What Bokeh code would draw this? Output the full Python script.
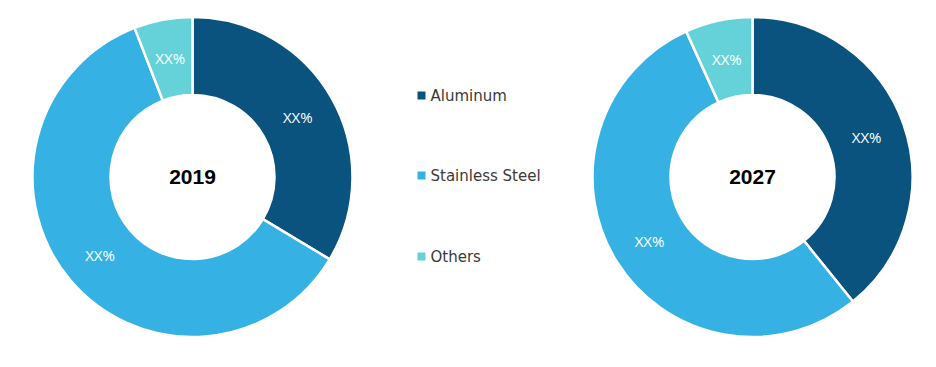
import math
from bokeh.plotting import figure
from bokeh.models import Range1d, ColumnDataSource
from bokeh.core.properties import value
from bokeh.embed import file_html
from bokeh.resources import INLINE

categories = ["Aluminum", "Stainless Steel", "Others"]
colors = ["#0a537f", "#35b2e3", "#65d2da"]
years = ["2019", "2027"]
shares_2019 = [33.6, 60.5, 5.9]
shares_2027 = [39.2, 54.0, 6.8]
labels_2019 = ["XX%", "XX%", "XX%"]
labels_2027 = ["XX%", "XX%", "XX%"]

W, H = 920, 351
p = figure(width=W, height=H, output_backend="svg", toolbar_location=None,
           x_range=Range1d(0, W), y_range=Range1d(0, H), min_border=0)
p.axis.visible = False
p.grid.visible = False
p.outline_line_color = None

R_OUT, R_IN = 160, 82
centers = [(192, 174.5), (752, 174.5)]

for (cx, cy), shares, labels, year in zip(centers, [shares_2019, shares_2027],
                                           [labels_2019, labels_2027], years):
    total = sum(shares)
    starts, ends, lx, ly = [], [], [], []
    cum = 0.0
    for s in shares:
        a0 = math.pi / 2 - 2 * math.pi * cum / total
        cum += s
        a1 = math.pi / 2 - 2 * math.pi * cum / total
        starts.append(a0)
        ends.append(a1)
        mid = (a0 + a1) / 2
        rm = (R_OUT + R_IN) / 2
        lx.append(cx + rm * math.cos(mid))
        ly.append(cy + rm * math.sin(mid))
    src = ColumnDataSource(dict(x=[cx] * 3, y=[cy] * 3, s=starts, e=ends,
                                c=colors, lx=lx, ly=ly, t=labels))
    p.annular_wedge(x="x", y="y", inner_radius=R_IN, outer_radius=R_OUT,
                    start_angle="s", end_angle="e", direction="clock",
                    fill_color="c", line_color="white", line_width=2.5, source=src)
    p.text(x="lx", y="ly", text="t", source=src, text_color="white",
           text_font=value("Open Sans"), text_font_size="15px",
           text_align="center", text_baseline="middle")
    p.text(x=[cx], y=[cy], text=[year], text_color="black",
           text_font=value("Liberation Sans"), text_font_size="21px",
           text_font_style="bold", text_align="center", text_baseline="middle")

leg_y = [351 - 95, 351 - 175, 351 - 256]
p.scatter(x=[421] * 3, y=leg_y, marker="square", size=8, fill_color=colors,
          line_color=None)
p.text(x=[430] * 3, y=leg_y, text=categories, text_color="#3a3a3a",
       text_font=value("DejaVu Sans"), text_font_size="15px",
       text_align="left", text_baseline="middle")

open("out.html", "w").write(file_html(p, INLINE))
